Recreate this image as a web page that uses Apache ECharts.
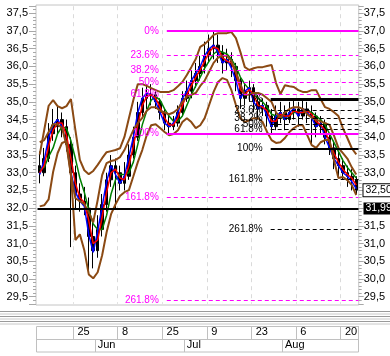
<!DOCTYPE html>
<html><head><meta charset="utf-8">
<script src="https://cdn.jsdelivr.net/npm/echarts@6/dist/echarts.min.js"></script>
<style>html,body{margin:0;padding:0;background:#fff}#c{width:390px;height:356px}</style>
</head><body><div id="c"></div>
<script>
// ---------------- data ----------------
const dates = ['2007-05-14','2007-05-15','2007-05-16','2007-05-18','2007-05-21','2007-05-22','2007-05-23','2007-05-24','2007-05-25','2007-05-28','2007-05-29','2007-05-30','2007-05-31','2007-06-01','2007-06-04','2007-06-05','2007-06-06','2007-06-07','2007-06-08','2007-06-11','2007-06-12','2007-06-13','2007-06-14','2007-06-15','2007-06-18','2007-06-19','2007-06-20','2007-06-21','2007-06-25','2007-06-26','2007-06-27','2007-06-28','2007-06-29','2007-07-02','2007-07-03','2007-07-04','2007-07-05','2007-07-06','2007-07-09','2007-07-10','2007-07-11','2007-07-12','2007-07-13','2007-07-16','2007-07-17','2007-07-18','2007-07-19','2007-07-20','2007-07-23','2007-07-24','2007-07-25','2007-07-26','2007-07-27','2007-07-30','2007-07-31','2007-08-01','2007-08-02','2007-08-03','2007-08-06','2007-08-07','2007-08-08','2007-08-09','2007-08-10','2007-08-13','2007-08-14','2007-08-15','2007-08-16','2007-08-17','2007-08-20','2007-08-21','2007-08-22','2007-08-23'];
const open  = [33.2,33.0,33.4,34.1,34.3,34.5,34.3,33.8,33.0,32.4,32.2,32.0,31.2,30.8,31.4,32.1,32.8,33.2,33.0,32.7,32.9,33.5,34.0,34.7,35.1,35.2,35.2,35.0,34.7,34.4,34.3,34.4,34.7,35.1,35.3,35.6,35.8,36.0,36.3,36.5,36.6,36.4,36.1,36.2,36.0,35.6,35.1,35.3,35.4,35.0,34.8,34.9,34.6,34.3,34.6,34.7,34.5,34.7,34.8,34.6,34.8,34.7,34.6,34.3,34.4,34.0,33.7,33.4,33.2,33.0,32.9,32.8];
const high  = [33.6,33.7,34.4,34.8,34.9,34.7,34.5,34.0,33.2,32.7,32.6,32.3,31.6,31.8,32.4,33.0,33.5,33.4,33.2,33.3,33.8,34.3,35.0,35.4,35.5,35.5,35.3,35.1,34.8,34.6,34.6,34.9,35.3,35.6,35.9,36.1,36.3,36.7,36.9,37.0,36.9,36.6,36.5,36.4,36.1,35.7,35.5,35.6,35.5,35.2,35.1,35.0,34.8,34.9,35.0,34.9,35.0,35.1,35.0,35.1,35.0,34.9,34.7,34.6,34.5,34.1,33.9,33.6,33.4,33.2,33.1,32.9];
const low   = [32.7,32.9,33.3,33.9,34.1,34.0,33.6,30.9,32.0,31.9,31.8,30.2,30.3,30.6,31.2,31.9,32.6,32.0,32.5,32.5,32.8,33.4,33.9,34.6,34.8,34.9,34.8,34.5,34.2,34.1,34.2,34.3,34.6,35.0,35.1,35.4,35.6,35.8,36.1,36.2,36.1,35.8,35.9,35.7,35.3,34.8,34.9,35.0,34.7,34.5,34.6,34.3,34.1,34.2,34.4,34.2,34.4,34.5,34.3,34.5,34.4,33.8,34.0,34.1,33.8,33.5,33.1,32.9,32.8,32.6,32.5,32.4];
const close = [33.0,33.4,34.1,34.35,34.5,34.3,33.8,33.0,32.4,32.2,32.1,31.2,30.8,31.4,32.1,32.8,33.2,33.0,32.7,32.9,33.5,34.0,34.7,35.1,35.2,35.2,35.0,34.7,34.4,34.3,34.4,34.7,35.1,35.3,35.6,35.8,36.0,36.3,36.5,36.6,36.4,36.1,36.2,36.0,35.6,35.1,35.3,35.4,35.0,34.8,34.9,34.6,34.3,34.6,34.7,34.5,34.7,34.8,34.6,34.8,34.7,34.6,34.3,34.4,34.0,33.7,33.4,33.2,33.0,32.9,32.8,32.507];
const maRed   = [33.0,33.2,33.75,34.2,34.4,34.4,34.05,33.4,32.7,32.3,32.15,31.65,31.0,31.1,31.75,32.45,33.0,33.1,32.85,32.8,33.2,33.75,34.35,34.9,35.15,35.2,35.1,34.85,34.55,34.35,34.35,34.55,34.9,35.2,35.45,35.7,35.9,36.15,36.4,36.55,36.5,36.25,36.15,36.1,35.8,35.35,35.2,35.35,35.2,34.9,34.85,34.75,34.45,34.45,34.65,34.6,34.6,34.75,34.7,34.7,34.75,34.65,34.45,34.35,34.2,33.85,33.55,33.3,33.1,32.95,32.85,32.65];
const maBlue  = [32.95,33.35,34.0,34.35,34.5,34.3,33.8,33.0,32.45,32.2,32.05,31.25,30.75,31.35,32.05,32.75,33.2,32.95,32.7,32.9,33.45,34.0,34.7,35.1,35.25,35.2,35.0,34.7,34.4,34.3,34.4,34.7,35.1,35.3,35.6,35.8,36.0,36.3,36.5,36.6,36.4,36.1,36.2,35.95,35.6,35.1,35.3,35.4,35.0,34.8,34.9,34.6,34.3,34.6,34.7,34.5,34.7,34.8,34.6,34.8,34.7,34.55,34.3,34.4,34.0,33.7,33.4,33.2,33.0,32.9,32.75,32.55];
const maGreen = [33.1,33.15,33.45,33.7,34.1,34.3,34.25,33.9,33.4,32.85,32.45,31.95,31.55,31.4,31.4,31.8,32.4,32.8,32.95,32.95,33.0,33.3,33.8,34.35,34.75,35.05,35.15,35.05,34.8,34.6,34.45,34.45,34.6,34.9,35.2,35.45,35.7,35.95,36.15,36.35,36.45,36.4,36.35,36.2,36.0,35.7,35.5,35.35,35.2,35.1,35.0,34.85,34.65,34.6,34.55,34.55,34.6,34.7,34.7,34.7,34.75,34.7,34.6,34.5,34.35,34.1,33.85,33.6,33.35,33.15,33.0,32.85];
const bandUpper  = [33.51,34.2,34.89,35.05,34.88,34.82,34.88,35.08,34.2,33.36,33.07,32.96,33.05,33.22,33.41,33.58,33.61,33.64,33.69,34.01,34.54,35.05,35.5,35.5,35.45,35.39,35.33,35.28,35.28,35.28,35.33,35.44,35.56,35.76,35.98,36.21,36.55,36.63,36.75,36.89,36.94,36.94,36.94,36.97,36.8,36.41,35.98,35.9,35.95,35.98,35.98,36.01,36.04,35.53,35.22,35.47,35.44,35.42,35.33,35.28,35.28,35.33,35.33,35.08,34.85,34.8,34.71,34.6,34.26,33.98,33.69,33.52];
const bandMiddle = [33.86,33.92,34.15,34.37,34.37,34.26,33.78,32.93,32.28,32.2,32.11,31.88,31.6,32.23,32.93,33.27,33.33,33.36,33.44,33.64,33.92,34.2,34.4,34.55,34.75,34.85,34.85,34.75,34.7,34.65,34.7,34.8,35.0,35.15,35.2,35.25,35.45,35.6,35.85,36.1,36.25,36.3,36.3,36.15,35.85,35.5,35.2,35.2,35.25,35.25,35.2,35.1,35.0,34.7,34.55,34.7,34.8,34.85,34.85,34.8,34.65,34.55,34.5,34.45,34.4,34.35,34.05,33.7,33.55,33.4,33.15,32.95];
const bandLower  = [32.05,32.08,32.25,33.02,33.55,33.84,33.89,32.93,31.1,31.26,30.81,30.13,30.02,30.19,30.67,31.32,31.83,32.11,32.34,32.45,32.51,32.9,33.3,33.64,34.06,34.34,34.37,34.26,34.15,34.06,34.09,34.2,34.43,34.54,34.43,34.26,34.34,34.54,34.91,35.28,35.56,35.67,35.62,35.33,34.91,34.54,34.43,34.48,34.54,34.54,34.43,34.15,33.92,33.84,33.86,33.98,34.15,34.26,34.34,34.34,34.06,33.78,33.7,33.86,33.92,33.92,33.35,32.85,32.88,32.79,32.65,32.37];
const dayTickDates   = ['2007-05-25','2007-06-08','2007-06-25','2007-07-09','2007-07-23','2007-08-06','2007-08-20'];
const monthTickDates = ['2007-06-01','2007-07-02','2007-08-01'];
const monthNames = ['Jan','Feb','Mar','Apr','May','Jun','Jul','Aug','Sep','Oct','Nov','Dec'];
const fibPct = ['0%','23.6%','38.2%','50%','61.8%','100%','161.8%','261.8%'];
const fibMagentaLevels = [37.0,36.3156,35.8922,35.55,35.2078,34.1,32.3078,29.4078];
const fibBlackLevels   = [35.08,34.7496,34.5452,34.38,34.2148,33.68,32.8148,31.4148];
const fibMagentaStart = 29;    // x position in trading-day units
const fibBlackStart = 52.3;
const lastPrice = 32.507;
const supportLevel = 31.994;
const yMin = 29.3, yMax = 37.7;

// ---------------- chart ----------------
const dayIdx = new Set(dayTickDates.map(d => dates.indexOf(d)));
const monIdx = new Set(monthTickDates.map(d => dates.indexOf(d)));
const comma = v => v.toFixed(1).replace('.', ',');
const isHalf = v => Math.abs(v * 2 - Math.round(v * 2)) < 1e-6;
const FONT = 'Liberation Sans, Arial, sans-serif';
const NARROW = '"Liberation Sans Narrow", "Arial Narrow", Liberation Sans, sans-serif';

const chart = echarts.init(document.getElementById('c'), null, {renderer: 'canvas'});
const plotTop = 6.2, plotH = 297.6;
const dataLeft = 37.5, dataW = 321;

function fibData(levels, start, color, solidW) {
  return fibPct.map((p, k) => {
    const solid = (p === '0%' || p === '100%');
    return [
      {coord: [start, levels[k]],
       lineStyle: {color: color, width: solid ? (p === '0%' ? solidW : 2) : 1, type: solid ? 'solid' : [4, 3]},
       label: {formatter: p, color: color}},
      {coord: [dates.length, levels[k]]}
    ];
  });
}

const yBase = {min: yMin, max: yMax, axisLine: {show: false}, splitLine: {show: false}};

const option = {
  animation: false,
  textStyle: {fontFamily: FONT},
  grid: [
    {left: 36, top: 5, width: 322.7, height: 300, show: true, borderColor: '#c4c4c4', borderWidth: 1, backgroundColor: 'transparent'},
    {left: 36, top: plotTop, width: 322.7, height: plotH},
    {left: dataLeft, top: plotTop, width: dataW, height: plotH},
    {left: dataLeft, top: 326, width: dataW, height: 13},
    {left: dataLeft, top: 339, width: dataW, height: 13}
  ],
  xAxis: [
    {gridIndex: 0, type: 'value', show: false, min: 0, max: 1},
    {gridIndex: 1, type: 'value', show: false, min: 0, max: 1},
    {gridIndex: 2, type: 'category', data: dates, boundaryGap: true,
     axisLine: {show: false}, axisTick: {show: false}, axisLabel: {show: false},
     splitLine: {show: true, interval: (i) => dayIdx.has(i), lineStyle: {color: '#dadada', type: [4, 4], width: 1}}},
    {gridIndex: 2, type: 'value', min: 0, max: dates.length, show: false},
    {gridIndex: 3, type: 'category', data: dates, boundaryGap: true, position: 'bottom',
     axisLine: {show: false}, axisTick: {show: false},
     axisLabel: {show: true, inside: true, margin: 2, interval: (i) => dayIdx.has(i), align: 'left', padding: [0, 0, 0, 2],
                 formatter: (v) => String(parseInt(v.slice(8), 10)), color: '#000', fontSize: 11, fontFamily: FONT},
     splitLine: {show: true, interval: (i) => dayIdx.has(i), lineStyle: {color: '#c0c0c0', width: 1}}},
    {gridIndex: 4, type: 'category', data: dates, boundaryGap: true, position: 'bottom',
     axisLine: {show: false}, axisTick: {show: false},
     axisLabel: {show: true, inside: true, margin: 2, interval: (i) => monIdx.has(i), align: 'left', padding: [0, 0, 0, 0],
                 formatter: (v) => monthNames[parseInt(v.slice(5, 7), 10) - 1], color: '#000', fontSize: 11, fontFamily: FONT},
     splitLine: {show: true, interval: (i) => monIdx.has(i), lineStyle: {color: '#c0c0c0', width: 1}}}
  ],
  yAxis: [
    {gridIndex: 0, type: 'value', show: false, min: 0, max: 1},
    Object.assign({gridIndex: 1, type: 'value', position: 'left', interval: 0.1,
      axisTick: {show: true, length: 3, lineStyle: {color: '#a8a8a8'}}, axisLabel: {show: false}}, yBase),
    Object.assign({gridIndex: 1, type: 'value', position: 'left', splitNumber: 17,
      axisTick: {show: true, length: 7, lineStyle: {color: '#a8a8a8'}},
      axisLabel: {show: true, margin: 8, color: '#000', fontSize: 11, fontFamily: FONT,
                  formatter: (v) => isHalf(v) ? comma(v) : ''}}, yBase),
    Object.assign({gridIndex: 1, type: 'value', position: 'right', interval: 0.1,
      axisTick: {show: true, length: 3, lineStyle: {color: '#a8a8a8'}}, axisLabel: {show: false}}, yBase),
    Object.assign({gridIndex: 1, type: 'value', position: 'right', splitNumber: 17,
      axisTick: {show: true, length: 5, lineStyle: {color: '#a8a8a8'}},
      axisLabel: {show: true, margin: 5, color: '#000', fontSize: 11, fontFamily: FONT,
                  formatter: (v) => (isHalf(v) && Math.abs(v - 32.5) > 1e-6 && Math.abs(v - 32.0) > 1e-6) ? comma(v) : ''}}, yBase),
    {gridIndex: 2, type: 'value', min: yMin, max: yMax, show: false},
    {gridIndex: 3, type: 'value', show: false, min: 0, max: 1},
    {gridIndex: 4, type: 'value', show: false, min: 0, max: 1}
  ],
  series: [
    {type: 'candlestick', name: 'price', xAxisIndex: 2, yAxisIndex: 5, barWidth: 3,
     data: dates.map((d, i) => [open[i], close[i], low[i], high[i]]),
     itemStyle: {color: '#000', color0: '#000', borderColor: '#000', borderColor0: '#000', borderWidth: 1},
     markLine: {silent: true, symbol: 'none', animation: false,
       data: [
         {yAxis: supportLevel, lineStyle: {color: '#000', width: 2, type: 'solid'},
          label: {show: true, position: 'end', distance: 5, formatter: () => String(supportLevel).replace('.', ','),
                  color: '#fff', backgroundColor: '#000', padding: [1, 2, 0, 2], fontSize: 10.5, fontFamily: FONT}}
       ]}},
    {type: 'line', name: 'green', xAxisIndex: 2, yAxisIndex: 5, data: maGreen, symbol: 'none', lineStyle: {color: '#008000', width: 1.5}},
    {type: 'line', name: 'blue', xAxisIndex: 2, yAxisIndex: 5, data: maBlue, symbol: 'none', lineStyle: {color: '#0000ff', width: 1.5}},
    {type: 'line', name: 'red', xAxisIndex: 2, yAxisIndex: 5, data: maRed, symbol: 'none', lineStyle: {color: '#ff0000', width: 1.5}},
    {type: 'line', name: 'bbU', xAxisIndex: 2, yAxisIndex: 5, data: bandUpper, symbol: 'none', lineStyle: {color: '#8b4a14', width: 2}},
    {type: 'line', name: 'bbM', xAxisIndex: 2, yAxisIndex: 5, data: bandMiddle, symbol: 'none', lineStyle: {color: '#8b4a14', width: 2}},
    {type: 'line', name: 'bbL', xAxisIndex: 2, yAxisIndex: 5, data: bandLower, symbol: 'none', lineStyle: {color: '#8b4a14', width: 2}},
    {type: 'line', name: 'fibM', xAxisIndex: 3, yAxisIndex: 5, data: [], z: 6,
     markLine: {silent: true, symbol: 'none', animation: false,
       label: {show: true, position: 'start', distance: 8, fontSize: 10, fontFamily: NARROW},
       data: fibData(fibMagentaLevels, fibMagentaStart, '#ff00ff', 2)}},
    {type: 'line', name: 'fibB', xAxisIndex: 3, yAxisIndex: 5, data: [], z: 6,
     markLine: {silent: true, symbol: 'none', animation: false,
       label: {show: true, position: 'start', distance: 8, fontSize: 10, fontFamily: NARROW},
       data: fibData(fibBlackLevels, fibBlackStart, '#000000', 3)}},
    {type: 'line', name: 'last', xAxisIndex: 3, yAxisIndex: 5, data: [], z: 7,
     markLine: {silent: true, symbol: 'none', animation: false,
       data: [
         [{coord: [0, lastPrice], lineStyle: {color: 'rgba(0,0,0,0)', width: 1},
           label: {show: true, position: 'end', distance: 5, formatter: () => String(lastPrice).replace('.', ','),
                   color: '#000', backgroundColor: '#fff', borderColor: '#000', borderWidth: 1, padding: [1, 2, 0, 2], fontSize: 10.5, fontFamily: FONT}},
          {coord: [dates.length, lastPrice]}]
       ]}}
  ],
  graphic: [
    {type: 'group', silent: true, children: [0, 1, 2, 3, 4, 5].map(k => ({
      type: 'line', shape: {x1: 0, y1: 311.5 + k * 2.5, x2: 390, y2: 311.5 + k * 2.5},
      style: {stroke: k % 2 ? '#c8c8c8' : '#9a9a9a', lineWidth: 1}}))},
    {type: 'rect', silent: true, shape: {x: 36.5, y: 326.5, width: 322, height: 25.5},
     style: {fill: 'none', stroke: '#c0c0c0', lineWidth: 1}},
    {type: 'line', silent: true, shape: {x1: 36, y1: 339.5, x2: 358.5, y2: 339.5},
     style: {stroke: '#c0c0c0', lineWidth: 1}}
  ]
};
chart.setOption(option);
</script></body></html>
